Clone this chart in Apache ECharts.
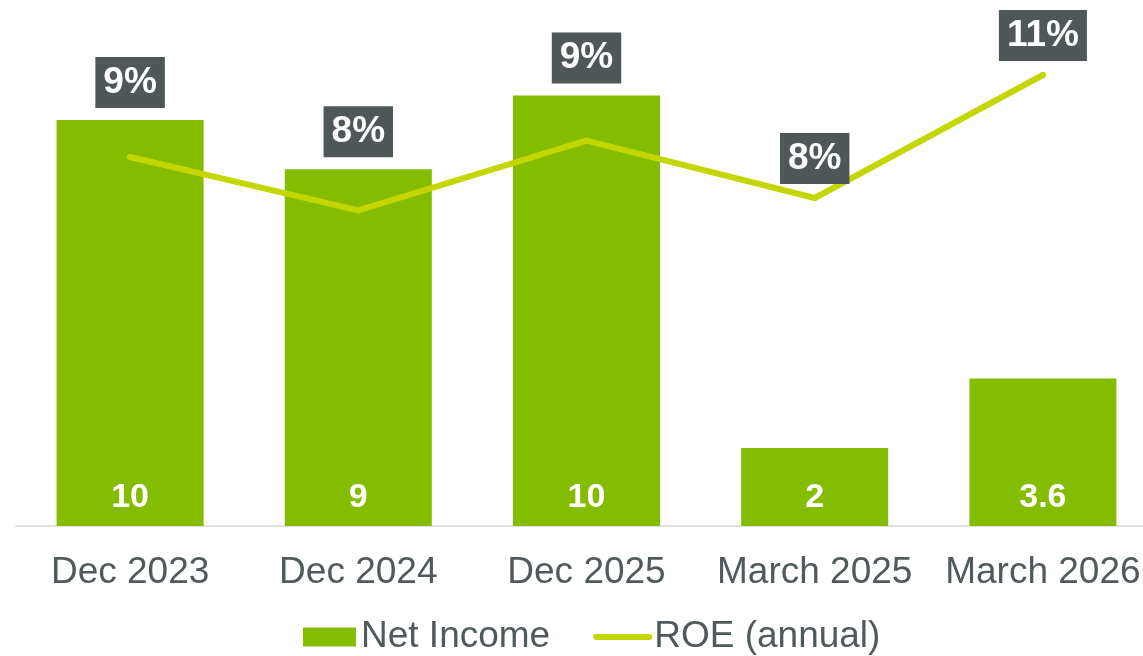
<!DOCTYPE html>
<html>
<head>
<meta charset="utf-8">
<script src="https://cdn.jsdelivr.net/npm/echarts@6/dist/echarts.min.js"></script>
<style>
html, body { margin: 0; padding: 0; background: #fff; }
#main { width: 1143px; height: 656px; }
</style>
</head>
<body>
<div id="main"></div>
<script>
var categories = ['Dec 2023', 'Dec 2024', 'Dec 2025', 'March 2025', 'March 2026'];
var netIncome = [9.9, 8.7, 10.5, 1.9, 3.6];
var netIncomeLabels = ['10', '9', '10', '2', '3.6'];
var roe = [9.0, 7.7, 9.4, 8.0, 11.0];

var font = "'Liberation Sans', Arial, sans-serif";
var chart = echarts.init(document.getElementById('main'));

function roeData(distances) {
	var list = [];
	for(var i = 0; i < roe.length; i++) {
		list.push({
			value: roe[i],
			label: { distance: distances ? distances[i] : 11 }
		});
	}
	return list;
}

var option = {
	animation: false,
	grid: { left: 16, width: 1141, top: 34, bottom: 130, outerBoundsMode: 'none' },
	legend: {
		left: 303,
		top: 618,
		padding: 0,
		itemGap: 43,
		itemWidth: 53,
		itemHeight: 19,
		textStyle: { fontFamily: font, fontSize: 37, color: '#505a5c', lineHeight: 38 },
		data: [
			{ name: 'Net Income', icon: 'rect' },
			{ name: 'ROE (annual)', itemStyle: { opacity: 0 }, lineStyle: { width: 6 } }
		]
	},
	xAxis: {
		type: 'category',
		data: categories,
		axisTick: { show: false },
		axisLine: { lineStyle: { color: '#dde2e2', width: 2 } },
		axisLabel: { interval: 0, fontFamily: font, fontSize: 37, color: '#505a5c', margin: 28 }
	},
	yAxis: [
		{ type: 'value', min: 0, max: 12, show: false },
		{ type: 'value', min: 0, max: 12, show: false }
	],
	series: [
		{
			name: 'Net Income',
			type: 'bar',
			data: netIncome,
			barWidth: 147,
			itemStyle: { color: '#84bc00' },
			label: {
				show: true,
				position: 'insideBottom',
				distance: 11,
				fontFamily: font,
				fontSize: 34,
				fontWeight: 'bold',
				color: '#fff',
				formatter: function(p) { return netIncomeLabels[p.dataIndex]; }
			}
		},
		{
			name: 'ROE (annual)',
			type: 'line',
			yAxisIndex: 1,
			data: roeData(),
			symbol: 'circle',
			symbolSize: 6,
			itemStyle: { color: '#c4d600' },
			lineStyle: { color: '#c4d600', width: 6, cap: 'round', join: 'round' },
			z: 3,
			label: {
				show: true,
				position: 'top',
				fontFamily: font,
				fontSize: 37,
				fontWeight: 'bold',
				lineHeight: 37,
				color: '#fff',
				backgroundColor: '#4f5759',
				padding: [7, 8],
				formatter: function(p) { return Math.round(p.value) + '%'; }
			}
		}
	]
};
chart.setOption(option);

/* ROE labels sit above the bar when the bar is taller than the point */
var distances = [];
for(var i = 0; i < roe.length; i++) {
	var pointY = chart.convertToPixel({ yAxisIndex: 1 }, roe[i]);
	var barTop = chart.convertToPixel({ yAxisIndex: 0 }, netIncome[i]);
	distances.push(barTop < pointY ? pointY - barTop + 9 : 11);
}
chart.setOption({ series: [{}, { data: roeData(distances) }] });
</script>
</body>
</html>
